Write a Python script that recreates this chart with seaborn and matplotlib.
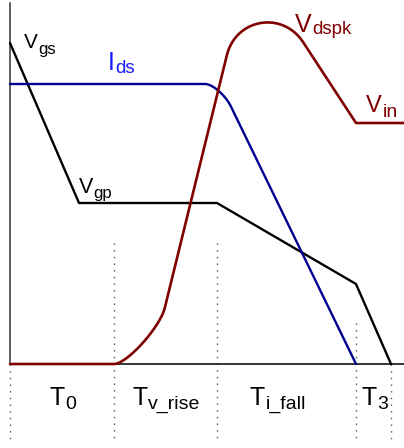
import numpy as np
import pandas as pd
import seaborn as sns
import matplotlib
matplotlib.use("Agg")
import matplotlib.pyplot as plt

# Switching interval boundaries (time units) and their names
phase_edges = [0, 104, 207, 346, 381]
phase_marker_top = [0, 121, 121, 41, 0]
phase_names = ["T", "T", "T", "T"]
phase_subs = ["0", "v_rise", "i_fall", "3"]

# Gate-source voltage (piecewise linear)
vgs_t = [0, 69, 207, 346, 381]
vgs_v = [321, 161, 161, 80, 0]

# Drain current (corner vertices of the idealised waveform)
ids_t = [0, 210, 346]
ids_v = [280, 280, 0]

# Drain-source voltage with overshoot (corner vertices)
vds_t = [0, 141, 240, 346, 394]
vds_v = [0, 0, 403, 241, 241]

# Corner rounding: vertex index -> (length before, length after, handle ratio)
ids_round = {1: (15, 25, 0.5)}
vds_round = {1: (37, 58, 0.35), 2: (97, 97, 0.39)}


def rounded(xs, ys, rounds, n=40):
    """Polyline through the vertices, corners replaced by cubic Beziers."""
    pts = np.column_stack([xs, ys]).astype(float)
    out = [pts[0]]
    for i in range(1, len(pts) - 1):
        if i not in rounds:
            out.append(pts[i])
            continue
        d_in, d_out, h = rounds[i]
        u_in = pts[i] - pts[i - 1]
        u_in /= np.hypot(*u_in)
        u_out = pts[i + 1] - pts[i]
        u_out /= np.hypot(*u_out)
        p0 = pts[i] - d_in * u_in
        p3 = pts[i] + d_out * u_out
        p1 = p0 + h * d_in * u_in
        p2 = p3 - h * d_out * u_out
        s = np.linspace(0, 1, n)[:, None]
        curve = ((1 - s) ** 3) * p0 + 3 * ((1 - s) ** 2) * s * p1 \
            + 3 * (1 - s) * (s ** 2) * p2 + (s ** 3) * p3
        out.extend(curve)
    out.append(pts[-1])
    arr = np.array(out)
    return pd.DataFrame({"t": arr[:, 0], "v": arr[:, 1]})


sns.set_theme(style="white")
plt.rcParams["font.family"] = ["Liberation Sans", "DejaVu Sans"]

fig = plt.figure(figsize=(4.04, 4.48), dpi=100)
ax = fig.add_axes([0, 0, 1, 1])

BLACK = "#000000"
NAVY = "#000090"
BLUE = "#1a1aff"
DARKRED = "#800000"

# Interval markers below and above the time axis
for x, top in zip(phase_edges, phase_marker_top):
    ax.plot([x, x], [top, -76], color="#555555", lw=1.0,
            linestyle=(0, (1, 3.8)), zorder=1)

sns.lineplot(data=pd.DataFrame({"t": vgs_t, "v": vgs_v}), x="t", y="v",
             sort=False, estimator=None, color=BLACK, lw=1.7, ax=ax, zorder=3)
sns.lineplot(data=rounded(ids_t, ids_v, ids_round), x="t", y="v",
             sort=False, estimator=None, color=NAVY, lw=1.7, ax=ax, zorder=4)
sns.lineplot(data=rounded(vds_t, vds_v, vds_round), x="t", y="v",
             sort=False, estimator=None, color=DARKRED, lw=1.9, ax=ax, zorder=5)

ax.set_xlim(-10, 394)
ax.set_ylim(-84, 364)
ax.set_xticks([])
ax.set_yticks([])
ax.set_xlabel("")
ax.set_ylabel("")
for side in ("top", "right"):
    ax.spines[side].set_visible(False)
ax.spines["left"].set_position(("data", 0))
ax.spines["left"].set_bounds(0, 361)
ax.spines["left"].set_color("#333333")
ax.spines["left"].set_linewidth(1.1)
ax.spines["bottom"].set_position(("data", 0))
ax.spines["bottom"].set_bounds(0, 394)
ax.spines["bottom"].set_color(BLACK)
ax.spines["bottom"].set_linewidth(1.1)


def sub_label(x, y, main, sub, size, sub_size, drop, color):
    ax.text(x, y, main, ha="right", va="baseline", fontsize=size,
            color=color, zorder=6)
    ax.annotate(sub, (x, y), xytext=(0.3, -drop), textcoords="offset points",
                ha="left", va="baseline", fontsize=sub_size, color=color,
                zorder=6)


sub_label(28, 316, "V", "gs", 15, 12, 4.3, BLACK)
sub_label(104.5, 294, "I", "ds", 18, 13.5, 2.2, BLUE)
sub_label(83, 171, "V", "gp", 15.5, 12, 3.6, BLACK)
sub_label(302, 332, "V", "dspk", 18, 13.5, 1.5, DARKRED)
sub_label(372, 252, "V", "in", 17, 14, 3.6, DARKRED)

label_x = [55, 138, 255, 367]
for x, name, sub in zip(label_x, phase_names, phase_subs):
    sub_label(x, -41, name, sub, 18, 14, 3.0, BLACK)

fig.savefig("out.png", dpi=100)
